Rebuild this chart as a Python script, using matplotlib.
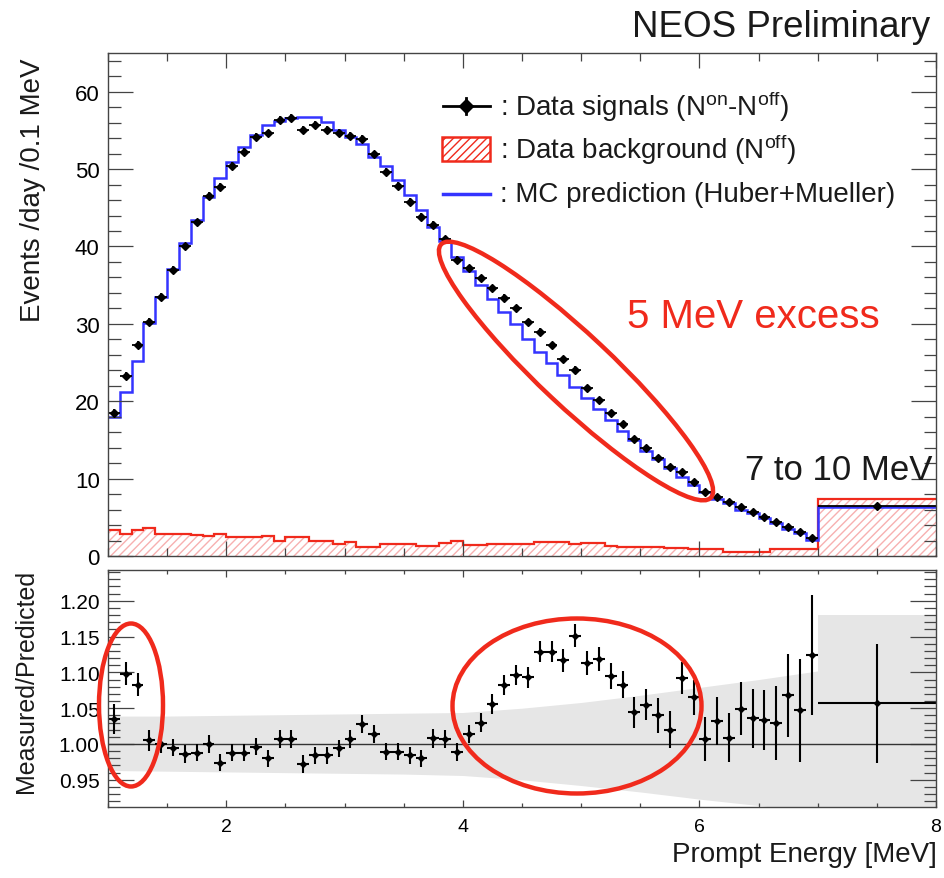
import numpy as np
import matplotlib
matplotlib.use("Agg")
import matplotlib.pyplot as plt
import matplotlib.transforms as mtransforms
from matplotlib.patches import Ellipse, Rectangle
from matplotlib.lines import Line2D
from matplotlib.ticker import MultipleLocator, FormatStrFormatter

plt.rcParams["font.family"] = ["Liberation Sans", "DejaVu Sans"]
plt.rcParams["mathtext.fontset"] = "custom"
plt.rcParams["mathtext.rm"] = "Liberation Sans"
plt.rcParams["mathtext.it"] = "Liberation Sans:italic"
plt.rcParams["hatch.linewidth"] = 1.0

# -------------------------
# Data: 0.1 MeV bins 1.0-7.0 MeV + one wide 7-10 MeV bin (drawn up to 8)
# -------------------------
bin_lo, bin_hi, n_bins = 1.0, 7.0, 60
high_lo, high_hi = 7.0, 8.0

data_signal = [18.5, 23.3, 27.3, 30.3, 33.5, 37.0, 40.0, 43.1, 46.5, 47.7,
               50.4, 52.2, 54.1, 54.6, 56.4, 56.6, 55.1, 55.7, 55.1, 54.7,
               54.3, 53.9, 51.9, 49.6, 47.8, 45.8, 43.8, 42.8, 40.9, 38.3,
               37.2, 35.9, 34.6, 33.4, 32.1, 30.2, 29.0, 27.3, 25.4, 24.1,
               21.7, 20.2, 18.5, 17.0, 15.1, 14.0, 12.7, 11.5, 10.8, 9.5,
               8.3, 7.6, 7.0, 6.3, 5.7, 5.0, 4.4, 3.8, 3.1, 2.3]
data_err = [0.5, 0.5, 0.5, 0.5, 0.5, 0.5, 0.5, 0.5, 0.5, 0.5,
            0.5, 0.5, 0.5, 0.5, 0.5, 0.5, 0.5, 0.5, 0.5, 0.5,
            0.5, 0.5, 0.5, 0.5, 0.5, 0.5, 0.5, 0.5, 0.5, 0.5,
            0.4, 0.4, 0.4, 0.4, 0.4, 0.4, 0.4, 0.4, 0.4, 0.4,
            0.4, 0.4, 0.4, 0.4, 0.4, 0.4, 0.4, 0.4, 0.4, 0.4,
            0.3, 0.3, 0.3, 0.3, 0.3, 0.3, 0.3, 0.3, 0.3, 0.3]
mc_pred = [18.0, 21.2, 25.2, 30.1, 33.5, 37.1, 40.5, 43.4, 46.4, 48.8,
           50.9, 52.8, 54.4, 55.7, 56.2, 56.6, 56.7, 56.7, 56.1, 55.1,
           54.2, 53.2, 51.6, 50.4, 48.6, 46.6, 44.7, 42.5, 40.7, 38.7,
           36.8, 35.0, 33.2, 31.5, 30.0, 28.0, 26.4, 25.0, 23.4, 21.8,
           20.4, 19.0, 17.6, 16.2, 15.0, 13.6, 12.5, 11.4, 10.2, 9.2,
           8.3, 7.4, 6.8, 6.0, 5.5, 4.85, 4.3, 3.55, 2.95, 2.05]
data_bkg = [3.3, 2.8, 3.4, 3.6, 2.9, 2.9, 2.9, 2.7, 2.6, 2.9,
            2.4, 2.4, 2.4, 2.6, 1.9, 2.5, 2.5, 2.0, 2.0, 1.5,
            1.8, 1.2, 1.2, 1.5, 1.5, 1.5, 1.25, 1.25, 1.7, 1.9,
            1.4, 1.4, 1.6, 1.6, 1.6, 1.6, 1.8, 1.8, 1.8, 1.5,
            1.7, 1.7, 1.25, 1.15, 1.15, 1.15, 1.15, 1.0, 1.0, 0.95,
            0.95, 0.95, 0.5, 0.5, 0.5, 0.5, 0.95, 0.95, 0.95, 0.95]
high_signal, high_signal_err = 6.4, 0.3
high_mc = 6.3
high_bkg = 7.4

ratio = [1.035, 1.098, 1.083, 1.005, 1.000, 0.995, 0.986, 0.988, 1.000, 0.974,
         0.988, 0.988, 0.996, 0.980, 1.007, 1.007, 0.972, 0.984, 0.984, 0.994,
         1.007, 1.028, 1.014, 0.989, 0.989, 0.984, 0.980, 1.008, 1.007, 0.989,
         1.014, 1.030, 1.056, 1.082, 1.097, 1.093, 1.129, 1.129, 1.117, 1.151,
         1.113, 1.119, 1.095, 1.083, 1.044, 1.055, 1.040, 1.020, 1.092, 1.065,
         1.007, 1.032, 1.009, 1.049, 1.036, 1.033, 1.029, 1.068, 1.047, 1.124]
ratio_err = [0.021, 0.016, 0.016, 0.015, 0.013, 0.012, 0.012, 0.012, 0.012, 0.012,
             0.012, 0.012, 0.012, 0.012, 0.012, 0.012, 0.012, 0.012, 0.012, 0.012,
             0.012, 0.012, 0.012, 0.012, 0.012, 0.012, 0.012, 0.013, 0.013, 0.013,
             0.013, 0.013, 0.014, 0.014, 0.014, 0.015, 0.015, 0.015, 0.016, 0.016,
             0.017, 0.017, 0.018, 0.019, 0.021, 0.022, 0.024, 0.026, 0.022, 0.024,
             0.031, 0.034, 0.034, 0.037, 0.041, 0.042, 0.052, 0.058, 0.072, 0.084]
high_ratio, high_ratio_err = 1.057, 0.083

# systematic band (relative half widths)
band_e = [1.0, 1.5, 2.0, 2.5, 3.0, 3.5, 4.0, 4.5, 5.0, 5.5, 6.0, 6.5, 7.0]
band_up = [0.039, 0.039, 0.040, 0.041, 0.042, 0.043, 0.044, 0.050, 0.058, 0.068, 0.079, 0.090, 0.102]
band_dn = [0.037, 0.038, 0.039, 0.040, 0.041, 0.042, 0.044, 0.050, 0.058, 0.067, 0.077, 0.086, 0.095]
high_band = 0.18

# -------------------------
# Binning
# -------------------------
edges = np.linspace(bin_lo, bin_hi, n_bins + 1)
centers = 0.5 * (edges[:-1] + edges[1:])
half_w = 0.5 * (edges[1] - edges[0])
edges_all = np.append(edges, high_hi)

RED = "#f02a1c"
BLUE = "#3434ff"
W, H = 944, 879


def fx(px):
    return px / W


def fy(py):
    return 1 - py / H


fig = plt.figure(figsize=(W / 100, H / 100), dpi=100)
ax1 = fig.add_axes([fx(108), fy(557), (936 - 108) / W, (557 - 54) / H])
ax2 = fig.add_axes([fx(108), fy(808), (936 - 108) / W, (808 - 571) / H])

# -------------------------
# Top panel: spectrum
# -------------------------
bkg_all = np.append(data_bkg, high_bkg)
ax1.stairs(bkg_all, edges_all, fill=True, hatch="////", facecolor="none",
           edgecolor="#f7b0b0", linewidth=0)
ax1.stairs(bkg_all, edges_all, color=RED, linewidth=1.6, baseline=None)
ax1.stairs(np.append(mc_pred, high_mc), edges_all, color=BLUE, linewidth=1.8,
           baseline=None)
ax1.errorbar(centers, data_signal, xerr=half_w, yerr=data_err, fmt="D", ms=4,
             color="black", elinewidth=1.3, capsize=0)
ax1.errorbar([0.5 * (high_lo + high_hi)], [high_signal], xerr=0.5 * (high_hi - high_lo),
             yerr=high_signal_err, fmt="D", ms=4, color="black", elinewidth=1.3, capsize=0)

ax1.set_xlim(bin_lo, high_hi)
ax1.set_ylim(0, 65)
ax1.xaxis.set_major_locator(MultipleLocator(2))
ax1.xaxis.set_minor_locator(MultipleLocator(0.5))
ax1.yaxis.set_major_locator(MultipleLocator(10))
ax1.yaxis.set_minor_locator(MultipleLocator(2))
ax1.tick_params(which="both", direction="in", top=True, right=True,
                labelbottom=False, color="#444444", width=0.9)
ax1.tick_params(axis="y", which="major", length=18, labelsize=16, pad=6)
ax1.tick_params(axis="y", which="minor", length=9)
ax1.tick_params(axis="x", which="major", length=11)
ax1.tick_params(axis="x", which="minor", length=6)

# -------------------------
# Bottom panel: ratio
# -------------------------
up = [1 + u for u in band_up]
dn = [1 - d for d in band_dn]
ax2.fill_between(band_e, dn, up, color="#e6e6e6", linewidth=0)
ax2.fill_between([high_lo, high_hi], 1 - high_band, 1 + high_band, color="#e6e6e6",
                 linewidth=0)
ax2.axhline(1.0, color="#333333", linewidth=1.0)
ax2.errorbar(centers, ratio, xerr=half_w, yerr=ratio_err, fmt="D", ms=3,
             color="black", elinewidth=1.5, capsize=0)
ax2.errorbar([0.5 * (high_lo + high_hi)], [high_ratio], xerr=0.5 * (high_hi - high_lo),
             yerr=high_ratio_err, fmt="D", ms=3, color="black", elinewidth=1.5, capsize=0)

ax2.set_xlim(bin_lo, high_hi)
ax2.set_ylim(0.912, 1.243)
ax2.xaxis.set_major_locator(MultipleLocator(2))
ax2.xaxis.set_minor_locator(MultipleLocator(0.5))
ax2.yaxis.set_major_locator(MultipleLocator(0.05))
ax2.yaxis.set_minor_locator(MultipleLocator(0.01))
ax2.yaxis.set_major_formatter(FormatStrFormatter("%.2f"))
ax2.tick_params(which="both", direction="in", top=True, right=True,
                color="#444444", width=0.9)
ax2.tick_params(axis="y", which="major", length=19, labelsize=15, pad=6)
ax2.tick_params(axis="y", which="minor", length=8.5)
ax2.tick_params(axis="x", which="major", length=5, labelsize=14, pad=8)
ax2.tick_params(axis="x", which="minor", length=3)

for ax in (ax1, ax2):
    for s in ax.spines.values():
        s.set_color("#444444")
        s.set_linewidth(1.0)

# -------------------------
# Labels and texts
# -------------------------
fig.text(fx(930), fy(37), "NEOS Preliminary", fontsize=26.5, ha="right",
         va="baseline", color="#1a1a1a")
fig.text(fx(937), fy(862), "Prompt Energy [MeV]", fontsize=20, ha="right",
         va="baseline", color="#1a1a1a")
fig.text(fx(33), fy(58), "Events /day /0.1 MeV", fontsize=20, rotation=90,
         ha="center", va="top", color="#1a1a1a")
fig.text(fx(26), fy(570), "Measured/Predicted", fontsize=18, rotation=90,
         ha="center", va="top", color="#1a1a1a")
fig.text(fx(627), fy(328), "5 MeV excess", fontsize=29, color=RED, va="baseline")
fig.text(fx(745), fy(480), "7 to 10 MeV", fontsize=25, color="#1a1a1a", va="baseline")

# legend drawn by hand in pixel coordinates
pix = mtransforms.Affine2D().scale(1 / W, -1 / H).translate(0, 1) + fig.transFigure
leg_rows = [107, 150, 195]
leg_text = [r": Data signals (N$^{\rm on}$-N$^{\rm off}$)",
            r": Data background (N$^{\rm off}$)",
            ": MC prediction (Huber+Mueller)"]
fig.add_artist(Line2D([443, 490], [leg_rows[0]] * 2, color="black", lw=2, transform=pix))
fig.add_artist(Line2D([466, 466], [leg_rows[0] - 8, leg_rows[0] + 8], color="black", lw=2,
                      transform=pix))
fig.add_artist(Line2D([466], [leg_rows[0]], marker="D", ms=7, color="black", transform=pix))
fig.add_artist(Rectangle((442, leg_rows[1] - 12), 48, 24, facecolor="white",
                         edgecolor=RED, hatch="////", lw=1.8, transform=pix))
fig.add_artist(Line2D([443, 490], [leg_rows[2]] * 2, color=BLUE, lw=2.5, transform=pix))
for yy, t in zip(leg_rows, leg_text):
    fig.text(fx(500), fy(yy), t, fontsize=20, va="center", color="#1a1a1a")

# red ellipses marking the excess (pixel coordinates)
ell_style = dict(fill=False, edgecolor=RED, linewidth=3.2, transform=pix, zorder=10)
fig.add_artist(Ellipse((576, 372), 370, 72, angle=43.2, **ell_style))
fig.add_artist(Ellipse((131, 706), 64, 163, **ell_style))
fig.add_artist(Ellipse((577, 707), 249, 175, **ell_style))

fig.savefig("out.png", dpi=100)
